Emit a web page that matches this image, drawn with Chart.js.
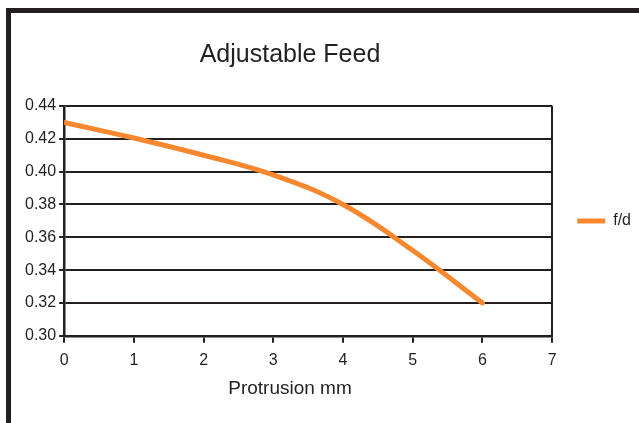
<!DOCTYPE html>
<html>
<head>
<meta charset="utf-8">
<title>Adjustable Feed</title>
<script src="https://cdn.jsdelivr.net/npm/chart.js@4.4.1/dist/chart.umd.min.js"></script>
<style>
  body { margin: 0; background: #fff; font-family: "Liberation Sans", Arial, sans-serif; color: #231f20; }
  .wrap { position: relative; width: 639px; height: 423px; overflow: hidden; }
  .frame { position: absolute; left: 6px; top: 8px; width: 700px; height: 500px;
           border-top: 5px solid #231f20; border-left: 5px solid #231f20; }
  .title { position: absolute; left: 0; width: 580px; top: 41px; text-align: center;
           font-size: 25px; line-height: 25px; }
  .xtitle { position: absolute; left: 0; width: 580px; top: 378px; text-align: center;
            font-size: 19px; line-height: 19px; }
  canvas { position: absolute; left: 0; top: 0; }
</style>
</head>
<body>
<div class="wrap">
  <div class="frame"></div>
  <canvas id="chart" width="639" height="423"></canvas>
  <div class="title">Adjustable Feed</div>
  <div class="xtitle">Protrusion mm</div>
</div>
<script>
// values
const protrusion = [0, 1, 2, 3, 4, 5, 6];
const feed = [0.430, 0.4205, 0.410, 0.398, 0.380, 0.352, 0.320];
const seriesName = 'f/d';

const ink = '#231f20';
const orange = '#f7882f';

new Chart(document.getElementById('chart'), {
  type: 'line',
  data: {
    datasets: [{
      label: seriesName,
      data: protrusion.map((x, i) => ({ x: x, y: feed[i] })),
      borderColor: orange,
      backgroundColor: orange,
      borderWidth: 5,
      borderCapStyle: 'round',
      pointRadius: 0,
      tension: 0.4,
      fill: false,
    }],
  },
  options: {
    responsive: false,
    animation: false,
    layout: { padding: { top: 106, left: 22, right: -2, bottom: 45 } },
    plugins: {
      title: { display: false },
      tooltip: { enabled: false },
      legend: {
        position: 'right',
        fullSize: false,
        labels: {
          usePointStyle: true,
          pointStyle: 'line',
          pointStyleWidth: 28,
          padding: 25,
          color: ink,
          font: { family: 'Liberation Sans', size: 16 },
        },
      },
    },
    scales: {
      x: {
        type: 'linear',
        min: 0,
        max: 7,
        ticks: { stepSize: 1, padding: 8, color: ink, font: { family: 'Liberation Sans', size: 16 } },
        grid: {
          color: (ctx) => (ctx.tick && ctx.tick.value === 7 ? ink : 'rgba(0,0,0,0)'),
          tickColor: ink,
          lineWidth: 2,
          tickLength: 7,
        },
        border: { color: ink, width: 2.5 },
      },
      y: {
        min: 0.30,
        max: 0.44,
        ticks: {
          stepSize: 0.02,
          padding: 3,
          color: ink,
          font: { family: 'Liberation Sans', size: 16 },
          callback: (v) => v.toFixed(2),
        },
        grid: { color: ink, lineWidth: 2, tickLength: 5 },
        border: { color: ink, width: 2.5 },
      },
    },
  },
});
</script>
</body>
</html>
